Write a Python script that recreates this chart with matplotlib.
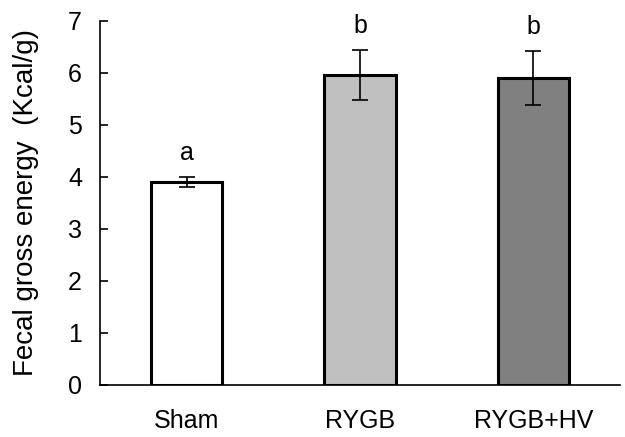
import matplotlib.pyplot as plt

plt.rcParams['font.family'] = ['Liberation Sans', 'DejaVu Sans']

groups = ['Sham', 'RYGB', 'RYGB+HV']
energy = [3.90, 5.96, 5.90]
sem = [0.10, 0.48, 0.52]
letters = ['a', 'b', 'b']
colors = ['#ffffff', '#c0c0c0', '#808080']

fig = plt.figure(figsize=(6.25, 4.37), dpi=100)
ax = fig.add_axes([0.16, 0.119, 0.832, 0.834])

x = range(len(groups))
ax.bar(x, energy, width=0.41, color=colors, edgecolor='black', linewidth=2.2,
       yerr=sem, error_kw=dict(ecolor='black', elinewidth=1.2, capsize=6, capthick=1.2))

# significance letters above the error bars
for i, (v, e, t) in enumerate(zip(energy, sem, letters)):
    ax.text(i, v + e + 0.22, t, ha='center', va='bottom', fontsize=18)

ax.set_xlim(-0.5, 2.5)
ax.set_ylim(0, 7)
ax.set_yticks(range(8))
ax.set_xticks(list(x))
ax.set_xticklabels(groups, fontsize=18)
ax.tick_params(axis='y', labelsize=18, direction='in', length=6, width=1.2, pad=13)
ax.tick_params(axis='x', length=0, pad=17)
ax.set_ylabel('Fecal gross energy  (Kcal/g)', fontsize=20, labelpad=21)

ax.spines['top'].set_visible(False)
ax.spines['right'].set_visible(False)
ax.spines['left'].set_linewidth(1.2)
ax.spines['bottom'].set_linewidth(1.2)

fig.savefig('out.png', dpi=100)
